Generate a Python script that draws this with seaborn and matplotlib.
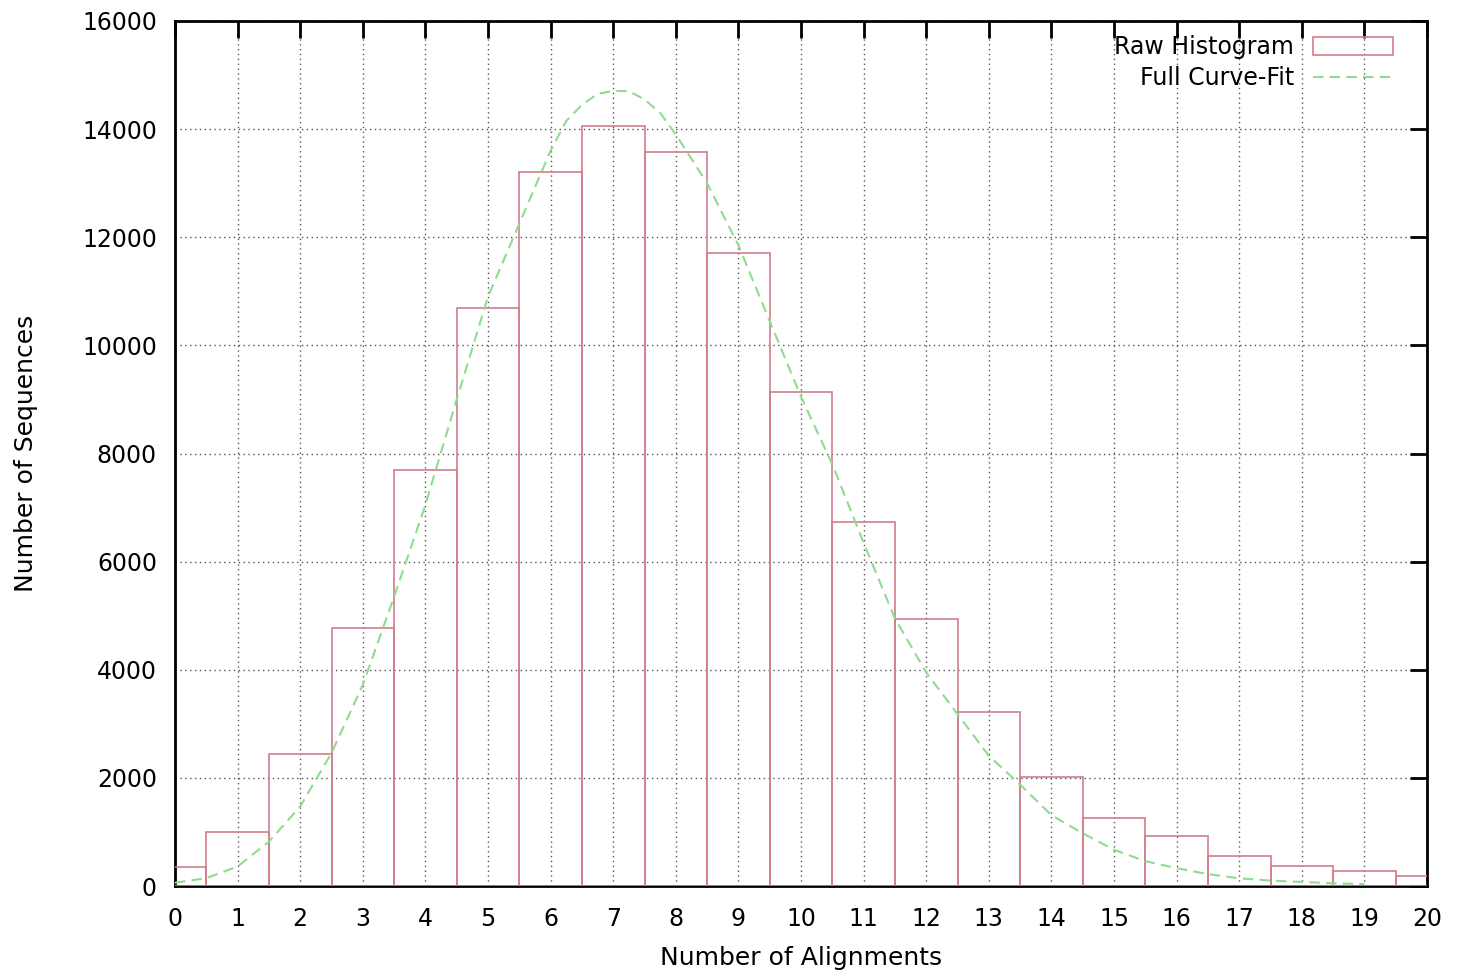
import matplotlib
matplotlib.use("Agg")
import matplotlib.pyplot as plt
import seaborn as sns
import pandas as pd

# ---- data ----
alignments = list(range(0, 21))
sequences = [350, 1000, 2440, 4770, 7690, 10690, 13210, 14060, 13580, 11710,
             9140, 6730, 4940, 3220, 2015, 1260, 925, 555, 370, 277, 185]

curve_x = [0, 0.5, 1, 1.5, 2, 2.5, 3, 3.5, 4, 4.5, 5, 5.5, 6, 6.25, 6.5, 6.75, 7,
           7.25, 7.5, 7.75, 8, 8.5, 9, 9.5, 10, 10.5, 11, 11.5, 12, 12.5, 13,
           13.5, 14, 14.5, 15, 15.5, 16, 16.5, 17, 17.5, 18, 18.5, 19]
curve_y = [60, 145, 360, 820, 1470, 2460, 3720, 5350, 7050, 9000, 10900, 12250,
           13600, 14150, 14450, 14650, 14710, 14700, 14550, 14300, 13900, 13000,
           11850, 10450, 9050, 7800, 6350, 4950, 3950, 3180, 2410, 1875, 1310,
           975, 670, 460, 330, 220, 142, 100, 75, 50, 35]

x_ticks = list(range(0, 21))
y_ticks = list(range(0, 16001, 2000))

hist_df = pd.DataFrame({"Number of Alignments": alignments,
                        "Number of Sequences": sequences})
curve_df = pd.DataFrame({"x": curve_x, "y": curve_y})

sns.set_style("white")
plt.rcParams["font.family"] = ["DejaVu Sans"]
plt.rcParams["text.color"] = "black"
plt.rcParams["axes.labelcolor"] = "black"

fig = plt.figure(figsize=(14.68, 9.77), dpi=100)
ax = fig.add_axes([175 / 1468, 1 - 886 / 977, (1427 - 175) / 1468, (886 - 21) / 977])

bar_color = "#d27e8a"
sns.barplot(data=hist_df, x="Number of Alignments", y="Number of Sequences",
            native_scale=True, width=1.0, fill=False, color=bar_color,
            linewidth=1.2, label="Raw Histogram", ax=ax, zorder=3)

sns.lineplot(data=curve_df, x="x", y="y", color="#8fdc8f", linewidth=1.5,
             linestyle=(0, (5, 3)), label="Full Curve-Fit", ax=ax, zorder=4)

ax.set_xlim(0, 20)
ax.set_ylim(0, 16000)
ax.set_xticks(x_ticks)
ax.set_xticklabels([str(t) for t in x_ticks])
ax.set_yticks(y_ticks)
ax.set_yticklabels([str(t) for t in y_ticks])

ax.grid(True, which="major", color="#555555", linestyle=(0, (1, 2.5)), linewidth=1.0)
ax.set_axisbelow(True)

for s in ax.spines.values():
    s.set_visible(True)
    s.set_color("black")
    s.set_linewidth(2.0)

ax.tick_params(axis="both", which="major", direction="in", length=12, width=2,
               top=True, right=True, labelsize=17, colors="black")
ax.tick_params(axis="x", pad=15)
ax.tick_params(axis="y", pad=13)

ax.set_xlabel("Number of Alignments", fontsize=18, labelpad=11, color="black")
ax.set_ylabel("Number of Sequences", fontsize=18, labelpad=32, color="black")

handles, labels = ax.get_legend_handles_labels()
order = [labels.index("Raw Histogram"), labels.index("Full Curve-Fit")]
leg = ax.legend([handles[i] for i in order], [labels[i] for i in order],
                loc="upper right", frameon=False, markerfirst=False, fontsize=17,
                handlelength=3.4, handleheight=0.75, borderaxespad=0.35,
                labelspacing=0.3, handletextpad=0.8,
                bbox_to_anchor=(0.987, 1.004))
for t in leg.get_texts():
    t.set_ha("right")
    t.set_color("black")

fig.savefig("out.png", dpi=100, facecolor="white")
